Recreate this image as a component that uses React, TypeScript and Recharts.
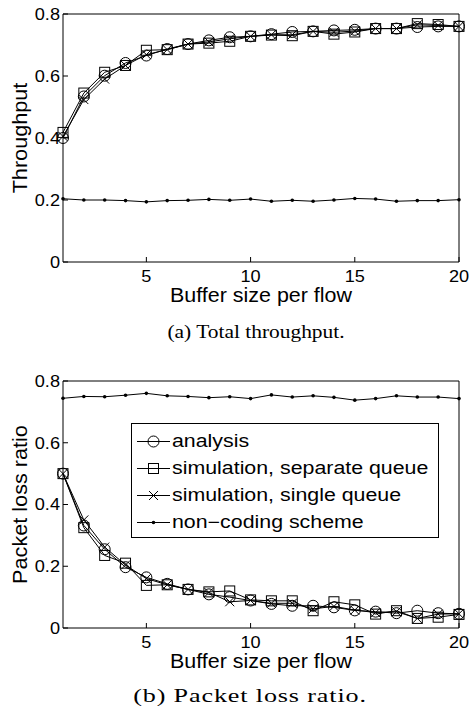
import React from "react";
import { LineChart, Line, XAxis, YAxis, Legend } from "recharts";

const BUFFER_SIZES = [1, 2, 3, 4, 5, 6, 7, 8, 9, 10, 11, 12, 13, 14, 15, 16, 17, 18, 19, 20];
const X_TICKS = [5, 10, 15, 20];
const Y_TICKS = [0, 0.2, 0.4, 0.6, 0.8];

// (a) total throughput
const TPUT_ANALYSIS = [0.4, 0.534, 0.601, 0.642, 0.666, 0.687, 0.703, 0.715, 0.725, 0.728, 0.735, 0.742, 0.744, 0.747, 0.749, 0.753, 0.753, 0.758, 0.76, 0.76];
const TPUT_SEPARATE = [0.418, 0.545, 0.612, 0.634, 0.683, 0.685, 0.703, 0.706, 0.712, 0.728, 0.732, 0.73, 0.744, 0.735, 0.742, 0.753, 0.753, 0.769, 0.766, 0.76];
const TPUT_SINGLE = [0.405, 0.524, 0.59, 0.634, 0.669, 0.685, 0.703, 0.71, 0.72, 0.728, 0.733, 0.733, 0.744, 0.741, 0.745, 0.753, 0.753, 0.765, 0.763, 0.76];
const TPUT_NONCODING = [0.204, 0.2, 0.2, 0.198, 0.194, 0.198, 0.199, 0.202, 0.199, 0.203, 0.196, 0.199, 0.196, 0.2, 0.205, 0.203, 0.196, 0.198, 0.198, 0.201];

// (b) packet loss ratio
const LOSS_ANALYSIS = [0.5, 0.332, 0.255, 0.197, 0.164, 0.143, 0.125, 0.109, 0.1, 0.089, 0.078, 0.072, 0.072, 0.067, 0.057, 0.053, 0.048, 0.056, 0.048, 0.046];
const LOSS_SEPARATE = [0.5, 0.325, 0.235, 0.21, 0.138, 0.14, 0.125, 0.117, 0.12, 0.091, 0.088, 0.088, 0.056, 0.085, 0.075, 0.045, 0.056, 0.031, 0.035, 0.044];
const LOSS_SINGLE = [0.5, 0.35, 0.262, 0.204, 0.16, 0.14, 0.125, 0.115, 0.085, 0.089, 0.08, 0.08, 0.062, 0.07, 0.058, 0.05, 0.053, 0.031, 0.045, 0.046];
const LOSS_NONCODING = [0.744, 0.75, 0.749, 0.754, 0.76, 0.752, 0.75, 0.746, 0.749, 0.743, 0.755, 0.748, 0.752, 0.747, 0.738, 0.743, 0.752, 0.748, 0.748, 0.743];

const LEGEND_LABELS = ["analysis", "simulation, separate queue", "simulation, single queue", "non\u2212coding scheme"];
const MARKERS = ["circle", "square", "cross", "dot"];

const SANS = '"Liberation Sans", Arial, Helvetica, sans-serif';
const SERIF = '"Liberation Serif", "Times New Roman", Times, serif';

const buildRows = (a: number[], s: number[], q: number[], n: number[]) =>
    BUFFER_SIZES.map((b, i) => ({ buffer: b, analysis: a[i], separate: s[i], single: q[i], noncoding: n[i] }));

const tputData = buildRows(TPUT_ANALYSIS, TPUT_SEPARATE, TPUT_SINGLE, TPUT_NONCODING);
const lossData = buildRows(LOSS_ANALYSIS, LOSS_SEPARATE, LOSS_SINGLE, LOSS_NONCODING);

// matlab style markers
const Marker = ({ kind, cx, cy }: { kind: string; cx: number; cy: number }) => {
    if (kind === "circle") return <circle cx={cx} cy={cy} r={5.5} fill="none" stroke="#000" strokeWidth={1} />;
    if (kind === "square") return <rect x={cx - 5} y={cy - 5} width={10} height={10} fill="none" stroke="#000" strokeWidth={1} />;
    if (kind === "cross")
        return <path d={`M${cx - 4.5},${cy - 4.5}L${cx + 4.5},${cy + 4.5}M${cx + 4.5},${cy - 4.5}L${cx - 4.5},${cy + 4.5}`} stroke="#000" strokeWidth={1} />;
    return <circle cx={cx} cy={cy} r={1.8} fill="#000" />;
};

const makeDot = (kind: string) => (p: any) => {
    if (p.cx == null || p.cy == null) return <g key={p.key} />;
    return <Marker key={p.key} kind={kind} cx={p.cx} cy={p.cy} />;
};

const StretchTick = (props: any) => {
    const { x, y, payload, textAnchor, sx, fs, dyv } = props;
    return (
        <g transform={`translate(${x},${y}) scale(${sx},1)`}>
            <text x={0} y={0} dy={dyv} textAnchor={textAnchor} fontSize={fs} fontFamily={SANS} fill="#000">
                {payload.value}
            </text>
        </g>
    );
};

const xTitle = (text: string) => (p: any) => {
    const vb = p.viewBox || {};
    const cx = (vb.x ?? 63) + (vb.width ?? 396) / 2;
    const cy = (vb.y ?? 262) + 40;
    return (
        <text transform={`translate(${cx},${cy}) scale(1.1,1)`} textAnchor="middle" fontSize={19.5} fontFamily={SANS} fill="#000">
            {text}
        </text>
    );
};

const yTitle = (text: string) => (p: any) => {
    const vb = p.viewBox || {};
    const cy = (vb.y ?? 14) + (vb.height ?? 248) / 2;
    return (
        <text transform={`translate(27,${cy}) rotate(-90) scale(1.11,1)`} textAnchor="middle" fontSize={19.5} fontFamily={SANS} fill="#000">
            {text}
        </text>
    );
};

const LossLegend = () => (
    <div style={{ width: 308, height: 115, boxSizing: "border-box", border: "1px solid #000", background: "#fff", paddingTop: 3.5, paddingLeft: 5 }}>
        {LEGEND_LABELS.map((label, i) => (
            <div key={label} style={{ height: 27, display: "flex", alignItems: "center" }}>
                <svg width={33} height={27} style={{ flexShrink: 0 }}>
                    <line x1={0} y1={13.5} x2={33} y2={13.5} stroke="#000" strokeWidth={1} />
                    <Marker kind={MARKERS[i]} cx={16.5} cy={13.5} />
                </svg>
                <span style={{ marginLeft: 2, fontFamily: SANS, fontSize: 17.5, lineHeight: "27px", whiteSpace: "nowrap", display: "inline-block", transform: "scaleX(1.22)", transformOrigin: "left center", color: "#000" }}>
                    {label}
                </span>
            </div>
        ))}
    </div>
);

const Panel = ({ data, yLabel, top, plotHeight, withLegend }: any) => {
    const height = 310;
    return (
        <div style={{ position: "absolute", left: 0, top }}>
            <LineChart width={470} height={height} data={data} margin={{ top: 13, right: 10, bottom: 0, left: 0 }}>
                <XAxis
                    dataKey="buffer"
                    type="number"
                    domain={[1, 20]}
                    ticks={X_TICKS}
                    interval={0}
                    height={height - 14 - plotHeight}
                    stroke="#000"
                    tickSize={-5}
                    tickMargin={13}
                    tick={<StretchTick sx={1.1} fs={16.5} dyv="0.71em" />}
                    label={xTitle("Buffer size per flow")}
                />
                <XAxis xAxisId="top" orientation="top" type="number" domain={[1, 20]} ticks={X_TICKS} interval={0} height={1} stroke="#000" tickSize={-5} tick={false} />
                <YAxis
                    type="number"
                    domain={[0, 0.8]}
                    ticks={Y_TICKS}
                    interval={0}
                    width={63}
                    stroke="#000"
                    tickSize={-5}
                    tickMargin={8}
                    tick={<StretchTick sx={1.1} fs={16.5} dyv="0.355em" />}
                    label={yTitle(yLabel)}
                />
                <YAxis yAxisId="right" orientation="right" type="number" domain={[0, 0.8]} ticks={Y_TICKS} interval={0} width={1} stroke="#000" tickSize={-5} tick={false} />
                <Line dataKey="noncoding" stroke="#000" strokeWidth={1} dot={makeDot("dot")} isAnimationActive={false} />
                <Line dataKey="single" stroke="#000" strokeWidth={1} dot={makeDot("cross")} isAnimationActive={false} />
                <Line dataKey="separate" stroke="#000" strokeWidth={1} dot={makeDot("square")} isAnimationActive={false} />
                <Line dataKey="analysis" stroke="#000" strokeWidth={1} dot={makeDot("circle")} isAnimationActive={false} />
                {withLegend && (
                    <Legend
                        layout="vertical"
                        align="center"
                        verticalAlign="middle"
                        content={<LossLegend />}
                        wrapperStyle={{ left: 131, top: 56, width: 308, height: 115 }}
                    />
                )}
            </LineChart>
        </div>
    );
};

const Caption = ({ text, cx, cy, sx, spacing }: any) => (
    <div
        style={{
            position: "absolute",
            left: cx,
            top: cy,
            fontFamily: SERIF,
            fontSize: 18,
            lineHeight: "18px",
            whiteSpace: "nowrap",
            letterSpacing: spacing,
            transform: `translate(-50%,-50%) scaleX(${sx})`,
            color: "#000",
        }}
    >
        {text}
    </div>
);

export default function App() {
    return (
        <div style={{ position: "absolute", left: 0, top: 0, width: 470, height: 709, background: "#fff", overflow: "hidden" }}>
            <Panel data={tputData} yLabel="Throughput" top={0} plotHeight={248} />
            <Caption text="(a) Total throughput." cx={256} cy={332} sx={1.19} spacing={0} />
            <Panel data={lossData} yLabel="Packet loss ratio" top={367} plotHeight={247} withLegend />
            <Caption text="(b) Packet loss ratio." cx={250} cy={696} sx={1.45} spacing={0.6} />
        </div>
    );
}
